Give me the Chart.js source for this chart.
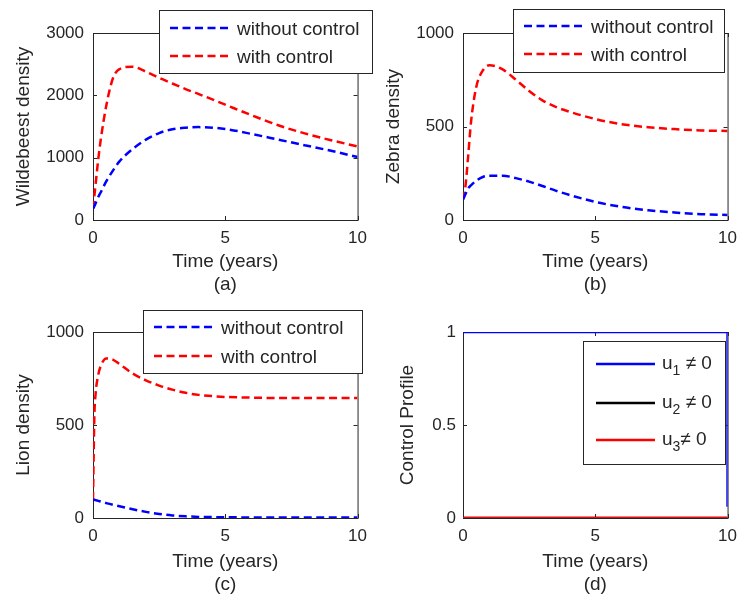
<!DOCTYPE html>
<html>
<head>
<meta charset="utf-8">
<script src="https://cdn.jsdelivr.net/npm/chart.js@4/dist/chart.umd.min.js"></script>
<style>
  html, body { margin: 0; padding: 0; background: #fff; overflow: hidden; }
  #wrap { position: relative; width: 739px; height: 599px; overflow: hidden; }
  #wrap canvas { position: absolute; }
</style>
</head>
<body>
<div id="wrap">
  <canvas id="wildChart" width="375" height="300" style="left:0;top:0"></canvas>
  <canvas id="zebraChart" width="375" height="300" style="left:370px;top:0"></canvas>
  <canvas id="lionChart" width="375" height="300" style="left:0;top:300px"></canvas>
  <canvas id="ctrlChart" width="375" height="300" style="left:370px;top:300px"></canvas>
</div>
<script>
// time samples (years) for the population curves
const years = [0, 0.05, 0.1, 0.2, 0.3, 0.5, 0.75, 1, 1.5, 2, 2.5, 3, 3.5, 4, 5, 6, 7, 8, 9, 10];

const wildNoCtrl = [180, 220, 270, 370, 450, 620, 790, 940, 1140, 1290, 1395, 1455, 1480, 1490, 1460, 1380, 1290, 1200, 1110, 1010];
const wildCtrl   = [180, 380, 580, 980, 1310, 1830, 2270, 2420, 2460, 2380, 2280, 2190, 2100, 2020, 1850, 1680, 1520, 1390, 1280, 1180];

const zebraNoCtrl = [110, 125, 140, 170, 185, 210, 230, 237, 237, 224, 205, 182, 157, 135, 97, 70, 52, 40, 31, 27];
const zebraCtrl   = [110, 140, 190, 350, 520, 710, 800, 828, 805, 750, 690, 640, 605, 580, 540, 512, 496, 486, 479, 476];

const lionNoCtrl = [100, 98, 96, 92, 88, 80, 71, 63, 47, 33, 22, 14, 9, 6, 4, 3, 3, 3, 3, 3];
const lionCtrl   = [100, 540, 670, 770, 820, 858, 852, 828, 777, 740, 712, 690, 673, 662, 651, 647, 645, 645, 645, 645];

// control profiles
const ctrlTime = [0, 10, 10];
const u1 = [1, 1, 0.06];
const u2 = [0, 0, 0];
const u3 = [0, 0, 0];

const xTicks = [0, 5, 10];
const wildTicks = [0, 1000, 2000, 3000];
const zebraTicks = [0, 500, 1000];
const lionTicks = [0, 500, 1000];
const ctrlTicks = [0, 0.5, 1];

const FONT = '"Liberation Sans", Arial, sans-serif';
const INK = '#262626';
const BLUE = '#0000ff';
const RED = '#ff0000';
const DASH = [8, 4.5];

Chart.defaults.font.family = FONT;
Chart.defaults.color = INK;

function pts(xs, ys) {
  return xs.map((x, i) => ({x: x, y: ys[i]}));
}

// axes box with small inward ticks on every side
const frame = {
  id: 'frame',
  beforeDatasetsDraw(chart) {
    const ctx = chart.ctx, a = chart.chartArea;
    const x = chart.scales.x, y = chart.scales.y;
    ctx.save();
    ctx.strokeStyle = INK;
    ctx.lineWidth = 1;
    ctx.strokeRect(a.left + 0.5, a.top + 0.5, a.right - a.left, a.bottom - a.top);
    ctx.beginPath();
    x.ticks.forEach(t => {
      let px = Math.round(x.getPixelForValue(t.value)) + 0.5;
      ctx.moveTo(px, a.bottom); ctx.lineTo(px, a.bottom - 4);
      ctx.moveTo(px, a.top); ctx.lineTo(px, a.top + 4);
    });
    y.ticks.forEach(t => {
      let py = Math.round(y.getPixelForValue(t.value)) + 0.5;
      ctx.moveTo(a.left, py); ctx.lineTo(a.left + 4, py);
      ctx.moveTo(a.right, py); ctx.lineTo(a.right - 4, py);
    });
    ctx.stroke();
    ctx.restore();
  }
};

// boxed legend placed freely over the axes
const boxLegend = {
  id: 'boxLegend',
  afterDraw(chart, args, opts) {
    if (!opts.items) return;
    const ctx = chart.ctx;
    ctx.save();
    ctx.fillStyle = '#fff';
    ctx.fillRect(opts.left, opts.top, opts.width, opts.height);
    ctx.strokeStyle = INK;
    ctx.lineWidth = 1;
    ctx.strokeRect(opts.left + 0.5, opts.top + 0.5, opts.width, opts.height);
    opts.items.forEach(it => {
      ctx.strokeStyle = it.color;
      ctx.lineWidth = 2.5;
      ctx.setLineDash(it.dashed ? DASH : []);
      ctx.beginPath();
      ctx.moveTo(opts.lineFrom, it.y);
      ctx.lineTo(opts.lineTo, it.y);
      ctx.stroke();
      ctx.setLineDash([]);

      ctx.fillStyle = INK;
      ctx.textBaseline = 'alphabetic';
      ctx.font = '19px ' + FONT;
      let tx = opts.textX;
      let base = it.y + opts.baseShift;
      ctx.fillText(it.text, tx, base);
      if (it.sub) {
        tx += ctx.measureText(it.text).width;
        ctx.font = '14px ' + FONT;
        ctx.fillText(it.sub, tx, base + 6);
        tx += ctx.measureText(it.sub).width;
        ctx.font = '19px ' + FONT;
        ctx.fillText(it.rest, tx, base);
      }
    });
    ctx.restore();
  }
};

Chart.register(frame, boxLegend);

function makePanel(id, p) {
  return new Chart(document.getElementById(id), {
    type: 'line',
    data: {datasets: p.datasets},
    options: {
      responsive: false,
      animation: false,
      events: [],
      layout: {padding: {top: p.top, right: 13, left: 0, bottom: 0}},
      elements: {point: {radius: 0}},
      plugins: {
        legend: {display: false},
        tooltip: {enabled: false},
        boxLegend: p.legend
      },
      scales: {
        x: {
          type: 'linear',
          min: 0, max: 10,
          afterBuildTicks: s => { s.ticks = xTicks.map(v => ({value: v})); },
          afterFit: s => { s.height = p.xHeight; },
          grid: {display: false, drawTicks: false},
          border: {display: false},
          ticks: {padding: 8, maxRotation: 0, autoSkip: false, font: {size: 17}, callback: v => String(v)},
          title: {display: true, text: ['Time (years)', p.caption], font: {size: 19}, padding: {top: 0, bottom: 4}}
        },
        y: {
          type: 'linear',
          min: p.yTicks[0], max: p.yTicks[p.yTicks.length - 1],
          afterBuildTicks: s => { s.ticks = p.yTicks.map(v => ({value: v})); },
          afterFit: s => { s.width = 93; },
          grid: {display: false, drawTicks: false},
          border: {display: false},
          ticks: {padding: p.yPad, autoSkip: false, font: {size: 17}, callback: v => String(v)},
          title: {display: true, text: p.yTitle, font: {size: 19}, padding: {top: p.yTitlePad, bottom: 0}}
        }
      }
    }
  });
}

function popSets(noCtrl, ctrl) {
  return [
    {label: 'without control', data: pts(years, noCtrl), borderColor: BLUE, borderWidth: 2.5,
     borderDash: DASH, cubicInterpolationMode: 'monotone', fill: false},
    {label: 'with control', data: pts(years, ctrl), borderColor: RED, borderWidth: 2.5,
     borderDash: DASH, cubicInterpolationMode: 'monotone', fill: false}
  ];
}

function popLegend(left, top, width, y1, y2) {
  return {
    left: left, top: top, width: width, height: 63,
    lineFrom: left + 11, lineTo: left + 69, textX: left + 78, baseShift: 7,
    items: [
      {text: 'without control', color: BLUE, dashed: true, y: y1},
      {text: 'with control', color: RED, dashed: true, y: y2}
    ]
  };
}

makePanel('wildChart', {
  datasets: popSets(wildNoCtrl, wildCtrl),
  top: 33, xHeight: 80, caption: '(a)',
  yTicks: wildTicks, yPad: 9, yTitle: 'Wildebeest density', yTitlePad: 12,
  legend: popLegend(159, 10, 213, 28, 56)
});

makePanel('zebraChart', {
  datasets: popSets(zebraNoCtrl, zebraCtrl),
  top: 33, xHeight: 80, caption: '(b)',
  yTicks: zebraTicks, yPad: 9, yTitle: 'Zebra density', yTitlePad: 12,
  legend: popLegend(143, 9, 211, 26, 54)
});

makePanel('lionChart', {
  datasets: popSets(lionNoCtrl, lionCtrl),
  top: 32, xHeight: 82, caption: '(c)',
  yTicks: lionTicks, yPad: 9, yTitle: 'Lion density', yTitlePad: 12,
  legend: popLegend(143, 10, 219, 27, 56)
});

makePanel('ctrlChart', {
  datasets: [
    {label: 'u1', data: pts(ctrlTime, u1), borderColor: BLUE, borderWidth: 2.5, tension: 0, order: 1},
    {label: 'u2', data: pts(ctrlTime, u2), borderColor: '#000', borderWidth: 2.5, tension: 0, order: 2},
    {label: 'u3', data: pts(ctrlTime, u3), borderColor: RED, borderWidth: 2.5, tension: 0, order: 0}
  ],
  top: 32, xHeight: 82, caption: '(d)',
  yTicks: ctrlTicks, yPad: 7, yTitle: 'Control Profile', yTitlePad: 26,
  legend: {
    left: 213, top: 41, width: 142, height: 123,
    lineFrom: 226, lineTo: 285, textX: 292, baseShift: 5,
    items: [
      {text: 'u', sub: '1', rest: ' \u2260 0', color: BLUE, y: 64},
      {text: 'u', sub: '2', rest: ' \u2260 0', color: '#000', y: 103},
      {text: 'u', sub: '3', rest: '\u2260 0', color: RED, y: 140}
    ]
  }
});
</script>
</body>
</html>
